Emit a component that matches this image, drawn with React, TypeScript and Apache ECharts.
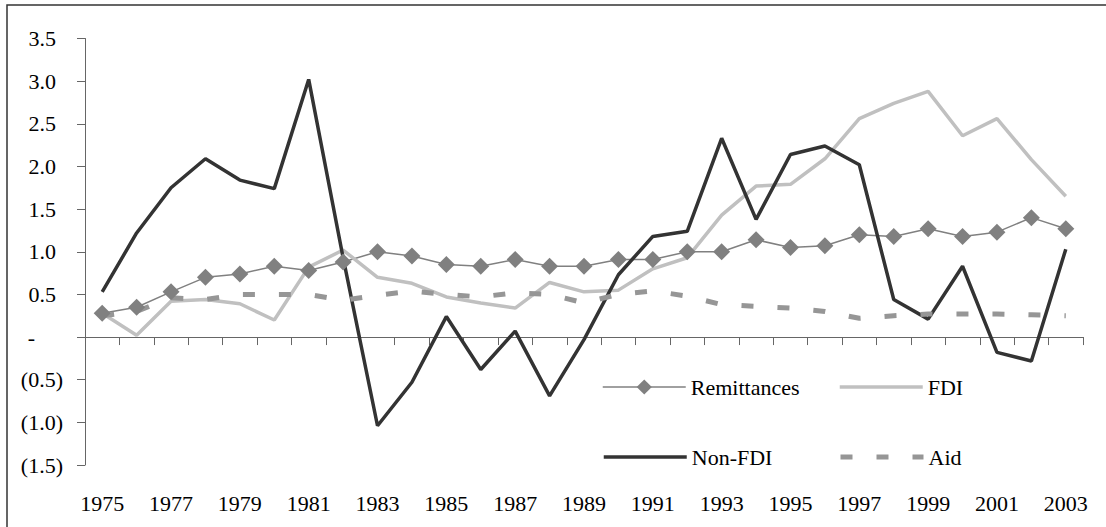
import React, { useEffect, useRef } from "react";
import * as echarts from "echarts";

const years = [
  "1975","1976","1977","1978","1979","1980","1981","1982","1983","1984",
  "1985","1986","1987","1988","1989","1990","1991","1992","1993","1994",
  "1995","1996","1997","1998","1999","2000","2001","2002","2003",
];

const remittances = [0.28,0.35,0.53,0.70,0.74,0.83,0.78,0.88,1.00,0.95,0.85,0.83,0.91,0.83,0.83,0.91,0.91,1.00,1.00,1.14,1.05,1.07,1.20,1.18,1.27,1.18,1.23,1.40,1.27];
const fdi = [0.28,0.02,0.42,0.44,0.39,0.20,0.82,1.02,0.70,0.63,0.47,0.40,0.34,0.64,0.53,0.55,0.80,0.93,1.43,1.77,1.79,2.09,2.56,2.74,2.88,2.36,2.56,2.08,1.65];
const nonFdi = [0.53,1.22,1.75,2.09,1.84,1.74,3.02,0.93,-1.04,-0.53,0.24,-0.38,0.07,-0.69,-0.03,0.73,1.18,1.24,2.33,1.38,2.14,2.24,2.02,0.44,0.21,0.83,-0.18,-0.28,1.03];
const aid = [0.25,0.30,0.46,0.44,0.50,0.50,0.50,0.43,0.49,0.54,0.50,0.47,0.52,0.50,0.40,0.50,0.54,0.48,0.38,0.36,0.34,0.30,0.22,0.25,0.27,0.27,0.27,0.26,0.25];

const FONT = "Liberation Serif";

export default function App() {
  const ref = useRef<HTMLDivElement>(null);
  useEffect(() => {
    if (!ref.current) return;
    const chart = echarts.init(ref.current, undefined, { renderer: "svg" });
    const txt = { fontFamily: FONT, fontSize: 22, color: "#000" };
    const hidden = { color: "rgba(0,0,0,0)", borderWidth: 0, opacity: 0 };
    const legendBase = {
      orient: "horizontal",
      padding: 0,
      itemWidth: 83,
      itemHeight: 19,
      textStyle: { ...txt },
      selectedMode: false,
    };
    chart.setOption({
      animation: false,
      backgroundColor: "#fff",
      textStyle: { fontFamily: FONT },
      graphic: [
        {
          type: "rect",
          shape: { x: 7, y: 5, width: 1200, height: 600 },
          style: { fill: "none", stroke: "#333", lineWidth: 1.5 },
          silent: true,
        },
      ],
      grid: { left: 85, right: 23, top: 38.5, bottom: 62 },
      legend: [
        { ...legendBase, data: ["Remittances"], left: 602, top: 376, lineStyle: { width: 1.5 } },
        { ...legendBase, data: [{ name: "FDI", itemStyle: hidden }], left: 838, top: 376, lineStyle: { width: 3.5 } },
        { ...legendBase, data: [{ name: "Non-FDI", itemStyle: hidden }], left: 602, top: 446, lineStyle: { width: 3.5 } },
        { ...legendBase, data: [{ name: "Aid", itemStyle: hidden }], left: 838, top: 446, lineStyle: { width: 5 } },
      ],
      xAxis: [
        {
          type: "category",
          data: years,
          boundaryGap: true,
          axisLine: { onZero: true, lineStyle: { color: "#666", width: 1 } },
          axisTick: { show: true, interval: 0, length: 8, lineStyle: { color: "#666" } },
          axisLabel: { show: false },
          splitLine: { show: false },
        },
        {
          type: "category",
          data: years,
          position: "bottom",
          boundaryGap: true,
          axisLine: { show: false, onZero: false },
          axisTick: { show: false },
          axisLabel: { ...txt, interval: 1, margin: 27 },
          splitLine: { show: false },
        },
      ],
      yAxis: {
        type: "value",
        min: -1.5,
        max: 3.5,
        interval: 0.5,
        axisLine: { show: true, lineStyle: { color: "#666", width: 1 } },
        axisTick: { show: true, inside: false, length: 8, lineStyle: { color: "#666" } },
        splitLine: { show: false },
        axisLabel: {
          ...txt,
          margin: 22,
          align: "right",
          formatter: (v: number) => {
            if (Math.abs(v) < 1e-9) return "{z|-}";
            if (v < 0) return "{n|(" + Math.abs(v).toFixed(1) + ")}";
            return "{p|" + v.toFixed(1) + "}";
          },
          rich: {
            p: { ...txt, padding: [0, 7, 0, 0] },
            n: { ...txt },
            z: { ...txt, padding: [0, 28, 0, 0] },
          },
        },
      },
      series: [
        {
          name: "Remittances",
          type: "line",
          data: remittances,
          symbol: "diamond",
          symbolSize: 17,
          itemStyle: { color: "#808080" },
          lineStyle: { color: "#808080", width: 1.5 },
        },
        {
          name: "FDI",
          type: "line",
          data: fdi,
          symbol: "none",
          itemStyle: { color: "#c0c0c0" },
          lineStyle: { color: "#c0c0c0", width: 3.5 },
        },
        {
          name: "Non-FDI",
          type: "line",
          data: nonFdi,
          symbol: "none",
          itemStyle: { color: "#333333" },
          lineStyle: { color: "#333333", width: 3.5 },
        },
        {
          name: "Aid",
          type: "line",
          data: aid,
          symbol: "none",
          itemStyle: { color: "#969696" },
          lineStyle: { color: "#969696", width: 5, type: [12, 24] },
        },
      ],
    });
    return () => chart.dispose();
  }, []);
  return (
    <div
      ref={ref}
      style={{ position: "absolute", left: 0, top: 0, width: 1106, height: 527 }}
    />
  );
}
